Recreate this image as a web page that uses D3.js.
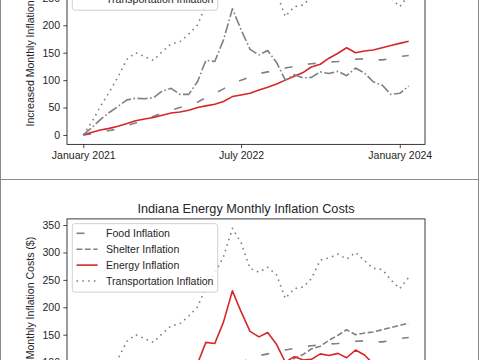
<!DOCTYPE html>
<html>
<head>
<meta charset="utf-8">
<script src="https://cdn.jsdelivr.net/npm/d3@7"></script>
<style>
  html, body { margin: 0; padding: 0; background: #fff; }
  svg { display: block; }
  text { font-family: "Liberation Sans", Arial, sans-serif; fill: #262626; }
</style>
</head>
<body>
<svg id="chart" width="480" height="360"></svg>
<script>
const months = ["2021-01","2021-02","2021-03","2021-04","2021-05","2021-06","2021-07","2021-08","2021-09","2021-10","2021-11","2021-12",
  "2022-01","2022-02","2022-03","2022-04","2022-05","2022-06","2022-07","2022-08","2022-09","2022-10","2022-11","2022-12",
  "2023-01","2023-02","2023-03","2023-04","2023-05","2023-06","2023-07","2023-08","2023-09","2023-10","2023-11","2023-12",
  "2024-01","2024-02"];
const food      = [0,2,5,8,11,17,22,28,34,40,45,50,54,60,68,76,84,93,100,106,112,115,118,122,125,128,130,131,133,134,136,138,139,137,137,139,143,145];
const shelter   = [0,5,9,12,16,21,26,29,32,36,40,42,45,50,53,56,61,70,73,76,82,87,93,100,107,114,124,129,140,149,159,150,153,155,159,163,167,171];
const energy    = [0,14,28,41,52,64,67,66,68,80,85,74,74,98,136,134,173,230,192,156,146,154,132,100,110,104,105,115,112,116,108,122,113,97,91,74,76,89];
const transport = [0,25,52,78,106,138,150,143,136,152,166,170,184,201,237,262,292,344,318,271,264,273,259,216,234,237,252,286,290,297,288,300,285,271,269,250,234,255];
const seriesNames = ["Food Inflation","Shelter Inflation","Energy Inflation","Transportation Inflation"];
const yTicks = [0,50,100,150,200,250,300,350];
const xTickDates = ["2021-01","2022-07","2024-01"];
const xTickLabels = ["January 2021","July 2022","January 2024"];
const panels = [
  {title: "Indiana Shelter Monthly Inflation Costs", focus: 1},
  {title: "Indiana Energy Monthly Inflation Costs", focus: 2}
];

const parse = d3.timeParse("%Y-%m");
const dates = months.map(parse);
const allSeries = [food, shelter, energy, transport];
const styles = [
  "7.9,15.8",          // loosely dashed
  "5.9,2.5",           // dashed
  "10.1,2.5,1.6,2.5",  // dash-dot
  "1.6,4.2"            // dotted
];
const GRAY = "#808080", RED = "#d62728", FS = 10.56;

const svg = d3.select("#chart");

const x0 = dates[0].getTime(), x1 = dates[dates.length-1].getTime();
const xpad = (x1 - x0) * 0.05;
const allVals = allSeries.flat();
const vmin = d3.min(allVals), vmax = d3.max(allVals);
const ypad = (vmax - vmin) * 0.05;

const axLeft = 67, axRight = 425, axH = 207.5;
const x = d3.scaleTime().domain([new Date(x0 - xpad), new Date(x1 + xpad)]).range([axLeft, axRight]);

panels.forEach((p, pi) => {
  const panelTop = -102.5 + pi * 282;
  const axTop = panelTop + 39.4, axBottom = axTop + axH;
  const g = svg.append("g");

  // panel border
  g.append("rect").attr("x", 0.5).attr("y", panelTop).attr("width", 478).attr("height", 282)
    .attr("fill", "none").attr("stroke", "#8a8a8a").attr("stroke-width", 1);

  const y = d3.scaleLinear().domain([vmin - ypad, vmax + ypad]).range([axBottom, axTop]);

  // lines
  const line = d3.line().x((d, i) => x(dates[i])).y(d => y(d));
  allSeries.forEach((s, si) => {
    const isF = si === p.focus;
    g.append("path").datum(s).attr("d", line)
      .attr("fill", "none")
      .attr("stroke", isF ? RED : GRAY)
      .attr("stroke-width", 1.6)
      .attr("stroke-dasharray", isF ? null : styles[si])
      .attr("stroke-linejoin", "round");
  });

  // axes
  const xAxis = d3.axisBottom(x).tickValues(xTickDates.map(parse))
    .tickFormat((d, i) => xTickLabels[i]).tickSize(3.7).tickPadding(3.2);
  const gx = g.append("g").attr("transform", `translate(0,${axBottom})`).call(xAxis);
  const yAxis = d3.axisLeft(y).tickValues(yTicks).tickFormat(d3.format("d")).tickSize(3.7).tickPadding(3.2);
  const gy = g.append("g").attr("transform", `translate(${axLeft},0)`).call(yAxis);
  [gx, gy].forEach(ax => {
    ax.select(".domain").remove();
    ax.selectAll("line").attr("stroke", "#262626").attr("stroke-width", 0.85);
    ax.selectAll("text").attr("font-size", FS).attr("fill", "#262626")
      .style("font-family", '"Liberation Sans", Arial, sans-serif');
  });

  // frame
  g.append("rect").attr("x", axLeft).attr("y", axTop).attr("width", axRight - axLeft).attr("height", axH)
    .attr("fill", "none").attr("stroke", "#262626").attr("stroke-width", 0.9);

  // title
  g.append("text").attr("x", (axLeft + axRight) / 2).attr("y", axTop - 6.4)
    .attr("text-anchor", "middle").attr("font-size", 12.7).text(p.title);

  // y label
  g.append("text")
    .attr("transform", `translate(30.5,${(axTop + axBottom) / 2}) rotate(-90)`)
    .attr("text-anchor", "middle").attr("dy", "0.35em")
    .attr("font-size", FS).text("Increased Monthly Inflation Costs ($)");

  // legend
  const lg = g.append("g");
  const boxX = axLeft + 5.3, boxY = axTop + 4.8;
  const rows = seriesNames.map((n, i) => axTop + 14.4 + i * 15.9);
  const box = lg.append("rect").attr("x", boxX).attr("y", boxY).attr("height", 68.5)
    .attr("rx", 2.5).attr("fill", "#fff").attr("fill-opacity", 0.8)
    .attr("stroke", "#cccccc").attr("stroke-width", 0.9);
  let maxW = 0;
  seriesNames.forEach((n, si) => {
    const isF = si === p.focus;
    lg.append("line").attr("x1", boxX + 4.2).attr("x2", boxX + 4.2 + 21.1)
      .attr("y1", rows[si]).attr("y2", rows[si])
      .attr("stroke", isF ? RED : GRAY).attr("stroke-width", 1.6)
      .attr("stroke-dasharray", isF ? null : styles[si]);
    const t = lg.append("text").attr("x", boxX + 4.2 + 21.1 + 8.4).attr("y", rows[si])
      .attr("dy", "0.35em").attr("font-size", FS).text(n);
    maxW = Math.max(maxW, t.node().getComputedTextLength());
  });
  box.attr("width", 4.2 + 21.1 + 8.4 + maxW + 4.2);
});
</script>
</body>
</html>
